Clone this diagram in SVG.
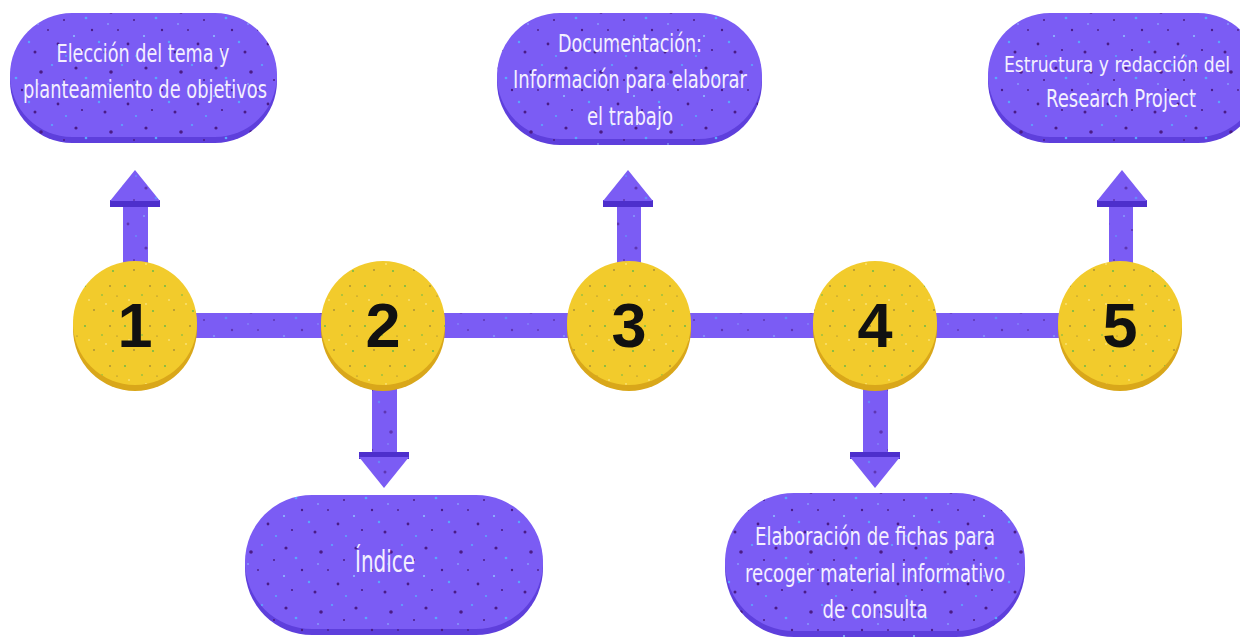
<svg xmlns="http://www.w3.org/2000/svg" width="1240" height="641" viewBox="0 0 1240 641">
<defs>
<style>
.rim{fill:#5e3fdc}
.face{fill:#7b5cf4}
.spk{fill:url(#pSpk)}
.crim{fill:#d9a71a}
.cface{fill:#f2cb2c}
.cspk{fill:url(#ySpk)}
.bar{fill:#7b5cf4}
.wing{fill:#4d2fcc}
.lbl{font-family:"Liberation Sans Narrow","DejaVu Sans Condensed","Liberation Sans",sans-serif;font-size:25px;fill:#f4efff;text-anchor:middle}
.num{font-family:"Liberation Sans","DejaVu Sans",sans-serif;font-weight:bold;font-size:63px;fill:#111;text-anchor:middle}
</style>
<pattern id="pSpk" patternUnits="userSpaceOnUse" width="70" height="60">
<circle cx="6" cy="8" r="1.6" fill="#4a1c86"/>
<circle cx="22" cy="30" r="1.2" fill="#4a1c86"/>
<circle cx="41" cy="12" r="1.8" fill="#4a1c86"/>
<circle cx="58" cy="44" r="1.4" fill="#4a1c86"/>
<circle cx="12" cy="50" r="1.1" fill="#4a1c86"/>
<circle cx="35" cy="52" r="1.5" fill="#4a1c86"/>
<circle cx="64" cy="20" r="1" fill="#4a1c86"/>
<circle cx="48" cy="30" r="0.9" fill="#4a1c86"/>
<circle cx="16" cy="18" r="1.3" fill="#5aa8ff"/>
<circle cx="52" cy="5" r="1.1" fill="#5aa8ff"/>
<circle cx="29" cy="42" r="1.2" fill="#5aa8ff"/>
<circle cx="66" cy="56" r="1" fill="#5aa8ff"/>
<circle cx="4" cy="36" r="1" fill="#8fc4ff"/>
<circle cx="38" cy="24" r="0.8" fill="#8fc4ff"/>
</pattern>
<pattern id="ySpk" patternUnits="userSpaceOnUse" width="40" height="40">
<circle cx="5" cy="6" r="0.9" fill="#5bb84a"/>
<circle cx="22" cy="15" r="0.8" fill="#5bb84a"/>
<circle cx="33" cy="31" r="0.9" fill="#5bb84a"/>
<circle cx="14" cy="30" r="0.8" fill="#7a6a3a"/>
<circle cx="30" cy="6" r="0.8" fill="#7a6a3a"/>
<circle cx="9" cy="20" r="0.7" fill="#fff6c0"/>
<circle cx="26" cy="24" r="0.7" fill="#fff6c0"/>
<circle cx="37" cy="16" r="0.6" fill="#7a6a3a"/>
</pattern>
<clipPath id="connClip">
<rect x="135" y="313" width="985" height="25"/>
<rect x="123" y="200" width="25" height="73"/>
<polygon points="110,201 135,170 160,201"/>
<rect x="372" y="385" width="25" height="72"/>
<polygon points="359,457 409,457 384,488"/>
<rect x="617" y="200" width="24" height="73"/>
<polygon points="603,201 628,170 653,201"/>
<rect x="863" y="385" width="25" height="72"/>
<polygon points="850,457 900,457 875,488"/>
<rect x="1109" y="200" width="24" height="73"/>
<polygon points="1097,201 1122,170 1147,201"/>
</clipPath>
</defs>
<rect width="1240" height="641" fill="#ffffff"/>

<g id="connectors">
<rect class="bar" x="135" y="313" width="985" height="25"/>
<rect class="bar" x="123" y="203" width="25" height="70"/>
<rect class="wing" x="110" y="200" width="50" height="7"/>
<polygon class="bar" points="110,201 135,170 160,201"/>
<rect class="bar" x="372" y="385" width="25" height="70"/>
<rect class="wing" x="359" y="452" width="50" height="7"/>
<polygon class="bar" points="359,457 409,457 384,488"/>
<rect class="bar" x="617" y="203" width="24" height="70"/>
<rect class="wing" x="603" y="200" width="50" height="7"/>
<polygon class="bar" points="603,201 628,170 653,201"/>
<rect class="bar" x="863" y="385" width="25" height="70"/>
<rect class="wing" x="850" y="452" width="50" height="7"/>
<polygon class="bar" points="850,457 900,457 875,488"/>
<rect class="bar" x="1109" y="203" width="24" height="70"/>
<rect class="wing" x="1097" y="200" width="50" height="7"/>
<polygon class="bar" points="1097,201 1122,170 1147,201"/>
<rect class="spk" x="100" y="165" width="1060" height="330" opacity="0.6" clip-path="url(#connClip)"/>
</g>

<g id="step1">
<circle class="crim" cx="135" cy="329" r="62"/>
<circle class="cface" cx="135" cy="323" r="62"/>
<circle class="cspk" cx="135" cy="323" r="62"/>
<text class="num" x="135" y="347">1</text>
</g>
<g id="step2">
<circle class="crim" cx="383" cy="329" r="62"/>
<circle class="cface" cx="383" cy="323" r="62"/>
<circle class="cspk" cx="383" cy="323" r="62"/>
<text class="num" x="383" y="347">2</text>
</g>
<g id="step3">
<circle class="crim" cx="629" cy="329" r="62"/>
<circle class="cface" cx="629" cy="323" r="62"/>
<circle class="cspk" cx="629" cy="323" r="62"/>
<text class="num" x="629" y="347">3</text>
</g>
<g id="step4">
<circle class="crim" cx="875" cy="329" r="62"/>
<circle class="cface" cx="875" cy="323" r="62"/>
<circle class="cspk" cx="875" cy="323" r="62"/>
<text class="num" x="875" y="347">4</text>
</g>
<g id="step5">
<circle class="crim" cx="1120" cy="329" r="62"/>
<circle class="cface" cx="1120" cy="323" r="62"/>
<circle class="cspk" cx="1120" cy="323" r="62"/>
<text class="num" x="1120" y="347">5</text>
</g>

<g id="box1">
<rect class="rim" x="10" y="19" width="267" height="124" rx="62"/>
<rect class="face" x="10" y="13" width="267" height="124" rx="62"/>
<rect class="spk" x="10" y="13" width="267" height="130" rx="62"/>
<text class="lbl" x="143" y="62" textLength="173" lengthAdjust="spacingAndGlyphs">Elección del tema y</text>
<text class="lbl" x="145" y="98" textLength="244" lengthAdjust="spacingAndGlyphs">planteamiento de objetivos</text>
</g>
<g id="box3">
<rect class="rim" x="497" y="19" width="265" height="126" rx="63"/>
<rect class="face" x="497" y="13" width="265" height="126" rx="63"/>
<rect class="spk" x="497" y="13" width="265" height="132" rx="63"/>
<text class="lbl" x="630" y="52" textLength="144" lengthAdjust="spacingAndGlyphs">Documentación:</text>
<text class="lbl" x="630" y="88" textLength="234" lengthAdjust="spacingAndGlyphs">Información para elaborar</text>
<text class="lbl" x="630" y="125" textLength="86" lengthAdjust="spacingAndGlyphs">el trabajo</text>
</g>
<g id="box5">
<rect class="rim" x="988" y="19" width="272" height="124" rx="62"/>
<rect class="face" x="988" y="13" width="272" height="124" rx="62"/>
<rect class="spk" x="988" y="13" width="272" height="130" rx="62"/>
<text class="lbl" x="1117" y="72" style="font-size:22px" textLength="226" lengthAdjust="spacingAndGlyphs">Estructura y redacción del</text>
<text class="lbl" x="1121" y="107" textLength="150" lengthAdjust="spacingAndGlyphs">Research Project</text>
</g>
<g id="box2">
<rect class="rim" x="245" y="501" width="298" height="134" rx="67"/>
<rect class="face" x="245" y="495" width="298" height="134" rx="67"/>
<rect class="spk" x="245" y="495" width="298" height="140" rx="67"/>
<text class="lbl" x="385" y="572" style="font-size:31px" textLength="60" lengthAdjust="spacingAndGlyphs">Índice</text>
</g>
<g id="box4">
<rect class="rim" x="725" y="499" width="300" height="138" rx="69"/>
<rect class="face" x="725" y="493" width="300" height="138" rx="69"/>
<rect class="spk" x="725" y="493" width="300" height="144" rx="69"/>
<text class="lbl" x="875" y="545" textLength="240" lengthAdjust="spacingAndGlyphs">Elaboración de fichas para</text>
<text class="lbl" x="875" y="582" textLength="260" lengthAdjust="spacingAndGlyphs">recoger material informativo</text>
<text class="lbl" x="875" y="618" textLength="105" lengthAdjust="spacingAndGlyphs">de consulta</text>
</g>
</svg>
